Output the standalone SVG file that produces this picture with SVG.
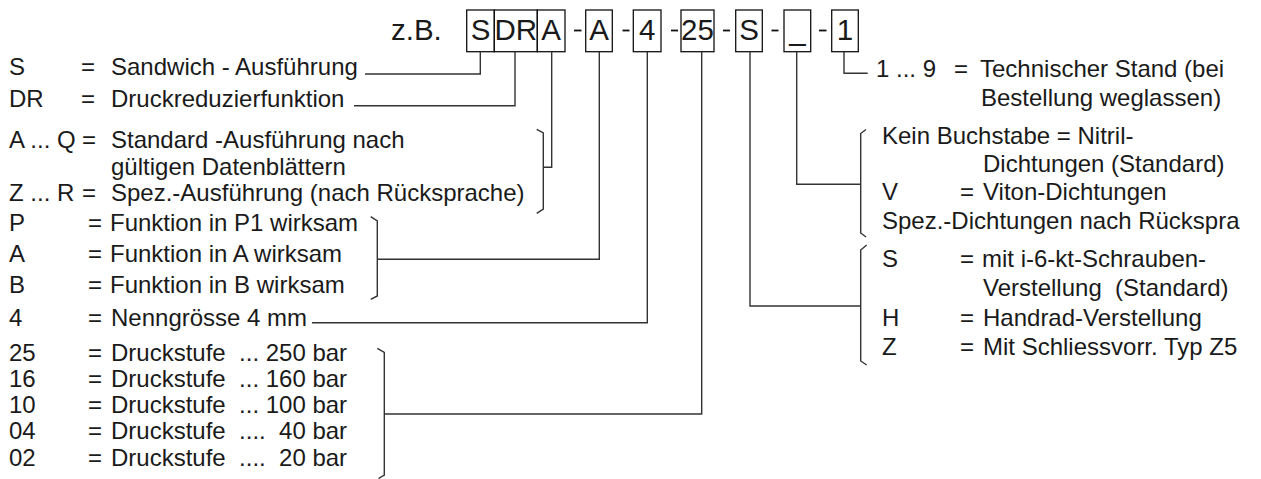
<svg xmlns="http://www.w3.org/2000/svg" width="1261" height="479" viewBox="0 0 1261 479">
<style>
text{font-family:"Liberation Sans",Arial,sans-serif;fill:#1a1a1a;white-space:pre}
.t{font-size:24px}
.b{font-size:29.5px}
.box{fill:none;stroke:#111;stroke-width:1.3}
.ln{fill:none;stroke:#333;stroke-width:1.4}
.dash{stroke:#111;stroke-width:1.8}
</style>
<rect width="1261" height="479" fill="#fff"/>
<g id="code">
<text class="b" x="391" y="40">z.B.</text>
<rect class="box" x="466.7" y="10" width="27.6" height="41.7"/>
<rect class="box" x="494.3" y="10" width="43" height="41.7"/>
<rect class="box" x="537.3" y="10" width="27.7" height="41.7"/>
<rect class="box" x="585.7" y="10" width="26.6" height="41.7"/>
<rect class="box" x="633.3" y="10" width="27.7" height="41.7"/>
<rect class="box" x="681" y="10" width="33" height="41.7"/>
<rect class="box" x="735.7" y="10" width="26.6" height="41.7"/>
<rect class="box" x="784" y="10" width="26.7" height="41.7"/>
<rect class="box" x="831.7" y="10" width="26.6" height="41.7"/>
<text class="b" x="480.5" y="40" text-anchor="middle">S</text>
<text class="b" x="515.8" y="40" text-anchor="middle">DR</text>
<text class="b" x="551.2" y="40" text-anchor="middle">A</text>
<text class="b" x="599" y="40" text-anchor="middle">A</text>
<text class="b" x="647.2" y="40" text-anchor="middle">4</text>
<text class="b" x="697.5" y="40" text-anchor="middle">25</text>
<text class="b" x="749" y="40" text-anchor="middle">S</text>
<text class="b" x="797.4" y="40" text-anchor="middle">_</text>
<text class="b" x="845" y="40" text-anchor="middle">1</text>
<line class="dash" x1="574" y1="30.5" x2="581.5" y2="30.5"/>
<line class="dash" x1="622.5" y1="30.5" x2="629.5" y2="30.5"/>
<line class="dash" x1="671" y1="30.5" x2="678" y2="30.5"/>
<line class="dash" x1="723" y1="30.5" x2="730" y2="30.5"/>
<line class="dash" x1="771.5" y1="30.5" x2="778.5" y2="30.5"/>
<line class="dash" x1="819" y1="30.5" x2="826.5" y2="30.5"/>
</g>
<g id="connectors">
<polyline class="ln" points="365,74 480.3,74 480.3,51.7"/>
<polyline class="ln" points="354,105.7 515,105.7 515,51.7"/>
<polyline class="ln" points="543.3,167.3 551.7,167.3 551.7,51.7"/>
<polyline class="ln" points="536.7,129.3 543.3,133 543.3,209 536.7,213.3"/>
<polyline class="ln" points="377.3,259.3 599.3,259.3 599.3,51.7"/>
<polyline class="ln" points="370.7,216.7 377.3,221 377.3,296 370.7,299.3"/>
<polyline class="ln" points="312,322.7 647.3,322.7 647.3,51.7"/>
<polyline class="ln" points="384.3,414 701.7,414 701.7,51.7"/>
<polyline class="ln" points="377.3,348.3 384.3,352.3 384.3,475 378.5,478.5"/>
<polyline class="ln" points="860.7,306 750,306 750,51.7"/>
<polyline class="ln" points="866.7,245 860.7,250 860.7,361 866.7,365"/>
<polyline class="ln" points="860.7,184.3 796.7,184.3 796.7,51.7"/>
<polyline class="ln" points="866,129.5 860.7,133.5 860.7,233 866,237"/>
<polyline class="ln" points="867.7,73.3 844,73.3 844,51.7"/>
</g>
<g id="legend-left">
<text class="t" x="9" y="75">S</text><text class="t" x="81" y="75">=</text><text class="t" x="111" y="75">Sandwich - Ausführung</text>
<text class="t" x="9" y="107">DR</text><text class="t" x="81" y="107">=</text><text class="t" x="111" y="107">Druckreduzierfunktion</text>
<text class="t" x="9" y="148">A ... Q</text><text class="t" x="82" y="148">=</text><text class="t" x="111" y="148">Standard -Ausführung nach</text>
<text class="t" x="111" y="175">gültigen Datenblättern</text>
<text class="t" x="9" y="201">Z ... R</text><text class="t" x="82" y="201">=</text><text class="t" x="111" y="201">Spez.-Ausführung (nach Rücksprache)</text>
<text class="t" x="9" y="231">P</text><text class="t" x="88" y="231">=</text><text class="t" x="110" y="231">Funktion in P1 wirksam</text>
<text class="t" x="9" y="262">A</text><text class="t" x="88" y="262">=</text><text class="t" x="110" y="262">Funktion in A wirksam</text>
<text class="t" x="9" y="293">B</text><text class="t" x="88" y="293">=</text><text class="t" x="110" y="293">Funktion in B wirksam</text>
<text class="t" x="9" y="326">4</text><text class="t" x="88" y="326">=</text><text class="t" x="111" y="326">Nenngrösse 4 mm</text>
<text class="t" x="9" y="361">25</text><text class="t" x="88" y="361">=</text><text class="t" x="111" y="361">Druckstufe  ... 250 bar</text>
<text class="t" x="9" y="387">16</text><text class="t" x="88" y="387">=</text><text class="t" x="111" y="387">Druckstufe  ... 160 bar</text>
<text class="t" x="9" y="413">10</text><text class="t" x="88" y="413">=</text><text class="t" x="111" y="413">Druckstufe  ... 100 bar</text>
<text class="t" x="9" y="439">04</text><text class="t" x="88" y="439">=</text><text class="t" x="111" y="439">Druckstufe  ....  40 bar</text>
<text class="t" x="9" y="466">02</text><text class="t" x="88" y="466">=</text><text class="t" x="111" y="466">Druckstufe  ....  20 bar</text>
</g>
<g id="legend-right">
<text class="t" x="876" y="77">1 ... 9</text><text class="t" x="954" y="77">=</text><text class="t" x="980" y="77">Technischer Stand (bei</text>
<text class="t" x="981" y="106">Bestellung weglassen)</text>
<text class="t" x="882" y="144">Kein Buchstabe = Nitril-</text>
<text class="t" x="983" y="172">Dichtungen (Standard)</text>
<text class="t" x="882" y="200">V</text><text class="t" x="960" y="200">=</text><text class="t" x="983" y="200">Viton-Dichtungen</text>
<text class="t" x="882" y="229">Spez.-Dichtungen nach Rückspra</text>
<text class="t" x="882" y="267">S</text><text class="t" x="960" y="267">=</text><text class="t" x="982" y="267">mit i-6-kt-Schrauben-</text>
<text class="t" x="983" y="296">Verstellung  (Standard)</text>
<text class="t" x="882" y="326">H</text><text class="t" x="960" y="326">=</text><text class="t" x="983" y="326">Handrad-Verstellung</text>
<text class="t" x="882" y="355">Z</text><text class="t" x="960" y="355">=</text><text class="t" x="983" y="355">Mit Schliessvorr. Typ Z5</text>
</g>
</svg>
